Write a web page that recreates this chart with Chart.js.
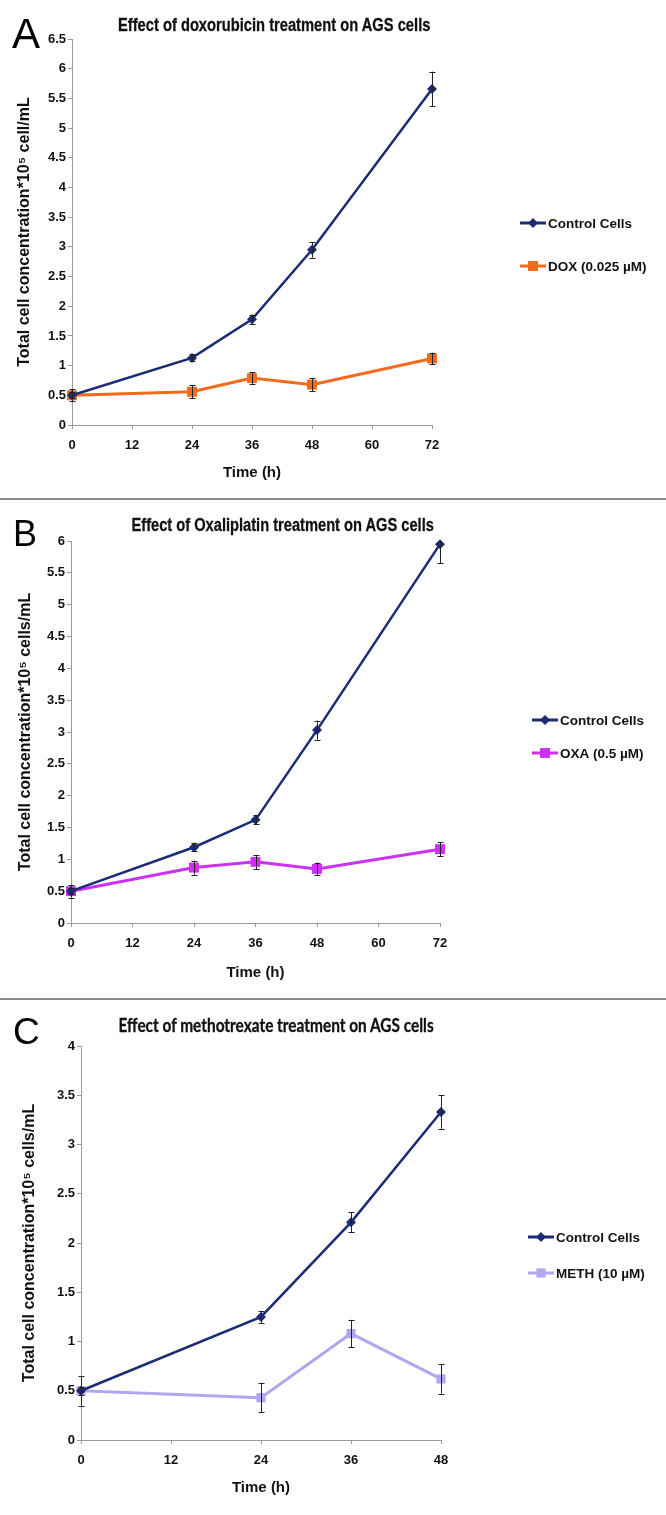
<!DOCTYPE html>
<html>
<head>
<meta charset="utf-8">
<script src="https://cdn.jsdelivr.net/npm/chart.js@4.4.1/dist/chart.umd.min.js"></script>
<style>
body { margin: 0; background: #fff; width: 666px; }
.panel { position: relative; width: 666px; }
#pA { height: 498px; border-bottom: 2px solid #8a8a8a; }
#pB { height: 498px; border-bottom: 2px solid #8a8a8a; }
#pC { height: 515px; }
canvas { position: absolute; left: 0; top: 0; }
.letter { position: absolute; font-family: "Liberation Sans", Arial, sans-serif; line-height: 1; color: #000; }
.title { position: absolute; white-space: nowrap; line-height: 20px; color: #111; font-weight: bold; transform-origin: center; -webkit-text-stroke: 0.3px #111; }
</style>
</head>
<body>
<div class="panel" id="pA">
  <canvas id="chartA" width="666" height="498"></canvas>
  <div class="letter" style="left:12px;top:13px;font-size:42px">A</div>
  <div class="title" id="tA" data-cx="274" data-w="312" style="top:15px;font-family:'Liberation Sans',Arial;font-size:18px">Effect of doxorubicin treatment on AGS cells</div>
</div>
<div class="panel" id="pB">
  <canvas id="chartB" width="666" height="498"></canvas>
  <div class="letter" style="left:13px;top:16px;font-size:36px">B</div>
  <div class="title" id="tB" data-cx="282" data-w="302" style="top:15px;font-family:'Liberation Sans',Arial;font-size:18px">Effect of Oxaliplatin treatment on AGS cells</div>
</div>
<div class="panel" id="pC">
  <canvas id="chartC" width="666" height="515"></canvas>
  <div class="letter" style="left:13px;top:13px;font-size:37px">C</div>
  <div class="title" id="tC" data-cx="276" data-w="315" style="top:15px;font-family:Lato,'Open Sans',sans-serif;font-size:18px">Effect of methotrexate treatment on AGS cells</div>
</div>

<script>
// A - doxorubicin
const timeA = [0, 24, 36, 48, 72];
const controlA = [0.5, 1.13, 1.78, 2.95, 5.66];
const controlAErr = [0.05, 0.06, 0.08, 0.13, 0.29];
const doxA = [0.5, 0.56, 0.79, 0.68, 1.12];
const doxAErr = [0.1, 0.11, 0.1, 0.11, 0.1];

// B - oxaliplatin
const timeB = [0, 24, 36, 48, 72];
const controlB = [0.5, 1.19, 1.62, 3.03, 5.95];
const controlBErr = [0.05, 0.06, 0.07, 0.15, 0.3];
const oxaB = [0.5, 0.87, 0.96, 0.85, 1.16];
const oxaBErr = [0.1, 0.11, 0.11, 0.1, 0.11];

// C - methotrexate
const timeC = [0, 24, 36, 48];
const controlC = [0.5, 1.25, 2.21, 3.33];
const controlCErr = [0.04, 0.06, 0.1, 0.17];
const methC = [0.5, 0.43, 1.08, 0.62];
const methCErr = [0.15, 0.15, 0.14, 0.15];

const NAVY = '#1b2c72';
const tickFont = { family: 'Liberation Sans, Arial, sans-serif', size: 13, weight: 'bold' };
const xTitleFont = { family: 'Liberation Sans, Arial, sans-serif', size: 15, weight: 'bold' };
const yTitleFont = { family: 'Liberation Sans, Arial, sans-serif', size: 16, weight: 'bold' };
const axisGrey = '#9a9a9a';

function pts(xs, ys) {
    return xs.map((x, i) => ({ x: x, y: ys[i] }));
}

// error bars from the dataset's err array, through the chart scales
const errorBars = {
    id: 'errorBars',
    afterDatasetsDraw(chart) {
        const ctx = chart.ctx, a = chart.chartArea;
        const xs = chart.scales.x, ys = chart.scales.y;
        ctx.save();
        ctx.beginPath();
        ctx.rect(0, a.top, chart.width, a.bottom - a.top);
        ctx.clip();
        ctx.strokeStyle = '#222';
        ctx.lineWidth = 1;
        chart.data.datasets.forEach(ds => {
            ds.data.forEach((p, i) => {
                const e = ds.err[i];
                const px = Math.round(xs.getPixelForValue(p.x)) + 0.5;
                const y1 = ys.getPixelForValue(p.y - e), y2 = ys.getPixelForValue(p.y + e);
                ctx.beginPath();
                ctx.moveTo(px, y1); ctx.lineTo(px, y2);
                ctx.moveTo(px - 3, Math.round(y1) + 0.5); ctx.lineTo(px + 3, Math.round(y1) + 0.5);
                ctx.moveTo(px - 3, Math.round(y2) + 0.5); ctx.lineTo(px + 3, Math.round(y2) + 0.5);
                ctx.stroke();
            });
        });
        ctx.restore();
    }
};

function marker(ctx, style, r, x, y, color) {
    ctx.fillStyle = color;
    ctx.beginPath();
    if (style === 'rectRot') {
        ctx.moveTo(x, y - r); ctx.lineTo(x + r, y); ctx.lineTo(x, y + r); ctx.lineTo(x - r, y);
    } else {
        const s = r * Math.SQRT1_2;
        ctx.rect(x - s, y - s, 2 * s, 2 * s);
    }
    ctx.closePath();
    ctx.fill();
}

// legend to the right of the plot
const sideLegend = {
    id: 'sideLegend',
    afterDraw(chart, args, o) {
        const ctx = chart.ctx;
        chart.data.datasets.forEach((ds, i) => {
            const x = o.x, y = o.y + i * o.gap;
            ctx.save();
            ctx.strokeStyle = ds.borderColor;
            ctx.lineWidth = 3;
            ctx.beginPath(); ctx.moveTo(x, y); ctx.lineTo(x + 26, y); ctx.stroke();
            marker(ctx, ds.pointStyle, ds.pointRadius, x + 13, y, ds.pointBackgroundColor);
            ctx.fillStyle = '#111';
            ctx.font = 'bold 13.5px "Liberation Sans", Arial, sans-serif';
            ctx.textBaseline = 'middle';
            ctx.fillText(ds.label, x + 28, y + 1);
            ctx.restore();
        });
    }
};

function makeChart(id, p) {
    return new Chart(document.getElementById(id).getContext('2d'), {
        type: 'line',
        data: {
            datasets: [{
                label: 'Control Cells',
                data: pts(p.time, p.control),
                err: p.controlErr,
                borderColor: NAVY,
                backgroundColor: NAVY,
                pointBackgroundColor: NAVY,
                borderWidth: 2.5,
                pointStyle: 'rectRot',
                pointRadius: 5,
                pointBorderWidth: 0,
                clip: false
            }, {
                label: p.drugLabel,
                data: pts(p.time, p.drug),
                err: p.drugErr,
                borderColor: p.color,
                backgroundColor: p.color,
                pointBackgroundColor: p.color,
                borderWidth: 3,
                pointStyle: 'rect',
                pointRadius: p.sq,
                pointBorderWidth: 0,
                clip: false
            }]
        },
        options: {
            responsive: false,
            animation: false,
            events: [],
            layout: { padding: { top: p.top, right: p.right, left: 0, bottom: 0 } },
            plugins: {
                legend: { display: false },
                tooltip: { enabled: false },
                sideLegend: p.legend
            },
            scales: {
                x: {
                    type: 'linear',
                    min: 0,
                    max: p.xmax,
                    afterFit: s => { s.height = p.xh; },
                    ticks: { stepSize: 12, font: tickFont, color: '#111', padding: 9, maxRotation: 0 },
                    grid: { drawOnChartArea: false, tickLength: 4, color: axisGrey },
                    border: { color: axisGrey },
                    title: { display: true, text: 'Time (h)', font: xTitleFont, color: '#111', padding: { top: 0, bottom: p.xtPad } }
                },
                y: {
                    min: 0,
                    max: p.ymax,
                    afterFit: s => { s.width = p.left; },
                    ticks: { stepSize: 0.5, font: tickFont, color: '#111', padding: 2, callback: v => String(v) },
                    grid: { drawOnChartArea: false, tickLength: 4, color: axisGrey },
                    border: { color: axisGrey },
                    title: { display: true, text: p.ytitle, font: yTitleFont, color: '#111', padding: { top: p.ytPad, bottom: 0 } }
                }
            }
        },
        plugins: [errorBars, sideLegend]
    });
}

makeChart('chartA', {
    time: timeA, control: controlA, controlErr: controlAErr,
    drug: doxA, drugErr: doxAErr, drugLabel: 'DOX (0.025 \u00b5M)', color: '#f26a1b', sq: 7,
    xmax: 72, ymax: 6.5, top: 39, right: 234, left: 72, xh: 73, xtPad: 16, ytPad: 15,
    ytitle: 'Total cell concentration*10\u2075 cell/mL',
    legend: { x: 520, y: 223, gap: 43 }
});

makeChart('chartB', {
    time: timeB, control: controlB, controlErr: controlBErr,
    drug: oxaB, drugErr: oxaBErr, drugLabel: 'OXA (0.5 \u00b5M)', color: '#cc30f2', sq: 7,
    xmax: 72, ymax: 6, top: 41, right: 226, left: 71, xh: 75, xtPad: 16, ytPad: 16,
    ytitle: 'Total cell concentration*10\u2075 cells/mL',
    legend: { x: 532, y: 220, gap: 33 }
});

makeChart('chartC', {
    time: timeC, control: controlC, controlErr: controlCErr,
    drug: methC, drugErr: methCErr, drugLabel: 'METH (10 \u00b5M)', color: '#b4a6ee', sq: 6.5,
    xmax: 48, ymax: 4, top: 46, right: 225, left: 81, xh: 75, xtPad: 18, ytPad: 20,
    ytitle: 'Total cell concentration*10\u2075 cells/mL',
    legend: { x: 528, y: 237, gap: 36 }
});

// fit the panel titles to their width in the figure
document.querySelectorAll('.title').forEach(t => {
    const w = t.offsetWidth;
    const k = Number(t.dataset.w) / w;
    t.style.left = (Number(t.dataset.cx) - w / 2) + 'px';
    t.style.transform = 'scaleX(' + k.toFixed(3) + ')';
});
</script>
</body>
</html>
